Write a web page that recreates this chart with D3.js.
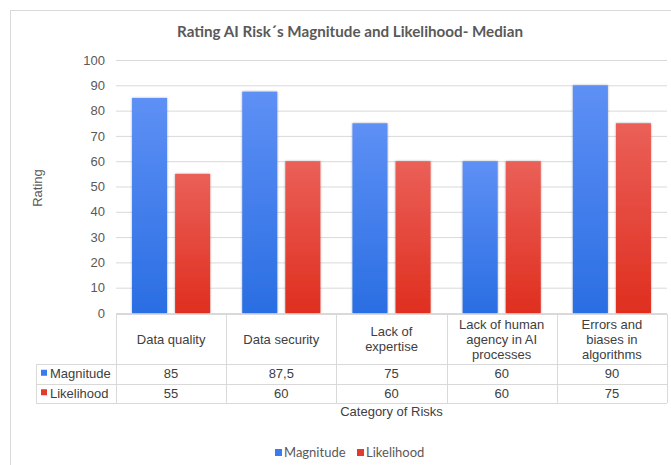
<!DOCTYPE html>
<html>
<head>
<meta charset="utf-8">
<script src="https://cdn.jsdelivr.net/npm/d3@7"></script>
<style>
  html, body { margin: 0; padding: 0; background: #fff; }
  svg { display: block; }
</style>
</head>
<body>
<svg id="chart" width="671" height="465"></svg>
<script>
// Data
const categories = [
  ["Data quality"],
  ["Data security"],
  ["Lack of", "expertise"],
  ["Lack of human", "agency in AI", "processes"],
  ["Errors and", "biases in", "algorithms"]
];
const categoryNames = categories.map(c => c.join(" "));
const seriesNames = ["Magnitude", "Likelihood"];
const magnitude = [85, 87.5, 75, 60, 90];
const likelihood = [55, 60, 60, 60, 75];
const valueLabels = {
  Magnitude: ["85", "87,5", "75", "60", "90"],
  Likelihood: ["55", "60", "60", "60", "75"]
};
const yTicks = [0, 10, 20, 30, 40, 50, 60, 70, 80, 90, 100];
const seriesValues = { Magnitude: magnitude, Likelihood: likelihood };
const colors = { Magnitude: "#3a7bf0", Likelihood: "#e5392c" };

const svg = d3.select("#chart");
const tickFont = "'Liberation Sans', Arial, sans-serif";
const titleFont = "Lato, 'Open Sans', sans-serif";

// Chart frame
svg.append("rect")
  .attr("x", 10.5).attr("y", 10.5)
  .attr("width", 700).attr("height", 500)
  .attr("fill", "#fff").attr("stroke", "#d9d9d9").attr("stroke-width", 1);

// Gradients and shadow
const defs = svg.append("defs");
const grads = {
  Magnitude: ["#5e90f5", "#2a6ee3"],
  Likelihood: ["#ea6058", "#df2f1f"]
};
Object.entries(grads).forEach(([k, [top, bot]]) => {
  const g = defs.append("linearGradient").attr("id", "g-" + k)
    .attr("x1", 0).attr("y1", 0).attr("x2", 0).attr("y2", 1);
  g.append("stop").attr("offset", "0%").attr("stop-color", top);
  g.append("stop").attr("offset", "100%").attr("stop-color", bot);
});
const f = defs.append("filter").attr("id", "shadow")
  .attr("x", "-20%").attr("y", "-5%").attr("width", "140%").attr("height", "110%");
f.append("feDropShadow").attr("dx", 0).attr("dy", 0).attr("stdDeviation", 1.2)
  .attr("flood-color", "#000").attr("flood-opacity", 0.35);

// Scales
const plotLeft = 116, plotRight = 667, plotTop = 60, plotBottom = 313;
const x = d3.scaleBand().domain(categoryNames).range([plotLeft, plotRight]).padding(0);
const xs = d3.scaleBand().domain(seriesNames).range([0, x.bandwidth()])
  .paddingInner(0.186).paddingOuter(0.372);
const y = d3.scaleLinear().domain([0, 100]).range([plotBottom, plotTop]);

// Gridlines and y tick labels
const yAxis = d3.axisLeft(y).tickValues(yTicks).tickSize(-(plotRight - plotLeft)).tickPadding(11)
  .tickFormat(d3.format("d"));
const ga = svg.append("g").attr("transform", `translate(${plotLeft},0)`).call(yAxis);
ga.select(".domain").remove();
ga.selectAll(".tick line").attr("stroke", "#d9d9d9").attr("stroke-width", 1);
ga.selectAll(".tick text")
  .attr("font-family", tickFont).attr("font-size", 13).attr("fill", "#595959");

// Title
svg.append("text")
  .attr("x", 350).attr("y", 37)
  .attr("text-anchor", "middle")
  .attr("font-family", titleFont).attr("font-weight", "bold").attr("font-size", 15.2)
  .attr("fill", "#595959")
  .text("Rating AI Risk´s Magnitude and Likelihood- Median");

// Y axis title
svg.append("text")
  .attr("transform", "translate(42,188) rotate(-90)")
  .attr("text-anchor", "middle")
  .attr("font-family", tickFont).attr("font-size", 13).attr("fill", "#595959")
  .text("Rating");

// Bars
const groups = svg.append("g").selectAll("g")
  .data(categoryNames).join("g")
  .attr("transform", d => `translate(${x(d)},0)`);
groups.selectAll("rect")
  .data((d, i) => seriesNames.map(s => ({ s, v: seriesValues[s][i] })))
  .join("rect")
  .attr("x", d => xs(d.s))
  .attr("width", xs.bandwidth())
  .attr("y", d => y(d.v))
  .attr("height", d => y(0) - y(d.v))
  .attr("fill", d => `url(#g-${d.s})`)
  .attr("filter", "url(#shadow)");

// Data table
const tTop = 314, tHead = 364, tRow = 19.5;
const tLeft = 36;
const rowY = i => tHead + i * tRow;
const tBottom = rowY(2);
const tg = svg.append("g").attr("stroke", "#d9d9d9").attr("stroke-width", 1).attr("fill", "none");
const crisp = v => Math.round(v) + 0.5;
tg.append("line").attr("x1", plotLeft).attr("x2", plotRight).attr("y1", crisp(tTop)).attr("y2", crisp(tTop));
[0, 1, 2].forEach(i => {
  tg.append("line").attr("x1", tLeft).attr("x2", plotRight)
    .attr("y1", crisp(rowY(i))).attr("y2", crisp(rowY(i)));
});
tg.append("line").attr("x1", crisp(tLeft)).attr("x2", crisp(tLeft)).attr("y1", tHead).attr("y2", tBottom);
const edges = categoryNames.map(c => x(c)).concat([plotRight]);
edges.forEach(e => {
  tg.append("line").attr("x1", crisp(e)).attr("x2", crisp(e)).attr("y1", tTop).attr("y2", tBottom);
});

// Header cells
const lineH = 15;
const hg = svg.append("g").attr("font-family", tickFont).attr("font-size", 13)
  .attr("fill", "#404040").attr("text-anchor", "middle");
categories.forEach((lines, i) => {
  const cx = x(categoryNames[i]) + x.bandwidth() / 2;
  const cy = (tTop + tHead) / 2;
  const t = hg.append("text").attr("x", cx)
    .attr("y", cy - (lines.length - 1) * lineH / 2 + 4.5);
  lines.forEach((l, j) => {
    t.append("tspan").attr("x", cx).attr("dy", j === 0 ? 0 : lineH).text(l);
  });
});

// Value rows
seriesNames.forEach((s, r) => {
  const cy = rowY(r) + tRow / 2 + 4.5;
  svg.append("rect").attr("x", 41).attr("y", cy - 8.5).attr("width", 6).attr("height", 6)
    .attr("fill", colors[s]);
  svg.append("text").attr("x", 50).attr("y", cy)
    .attr("font-family", tickFont).attr("font-size", 13).attr("fill", "#404040")
    .text(s);
  categoryNames.forEach((c, i) => {
    svg.append("text").attr("x", x(c) + x.bandwidth() / 2).attr("y", cy)
      .attr("text-anchor", "middle")
      .attr("font-family", tickFont).attr("font-size", 13).attr("fill", "#404040")
      .text(valueLabels[s][i]);
  });
});

// X axis title
svg.append("text")
  .attr("x", (plotLeft + plotRight) / 2).attr("y", 416)
  .attr("text-anchor", "middle")
  .attr("font-family", tickFont).attr("font-size", 13).attr("fill", "#404040")
  .text("Category of Risks");

// Legend
const legend = svg.append("g").attr("font-family", titleFont).attr("font-size", 13).attr("fill", "#595959");
const legendItems = [{ s: "Magnitude", x: 275 }, { s: "Likelihood", x: 357 }];
legendItems.forEach(d => {
  legend.append("rect").attr("x", d.x).attr("y", 449).attr("width", 7).attr("height", 7)
    .attr("fill", colors[d.s]);
  legend.append("text").attr("x", d.x + 9).attr("y", 457).text(d.s);
});
</script>
</body>
</html>
